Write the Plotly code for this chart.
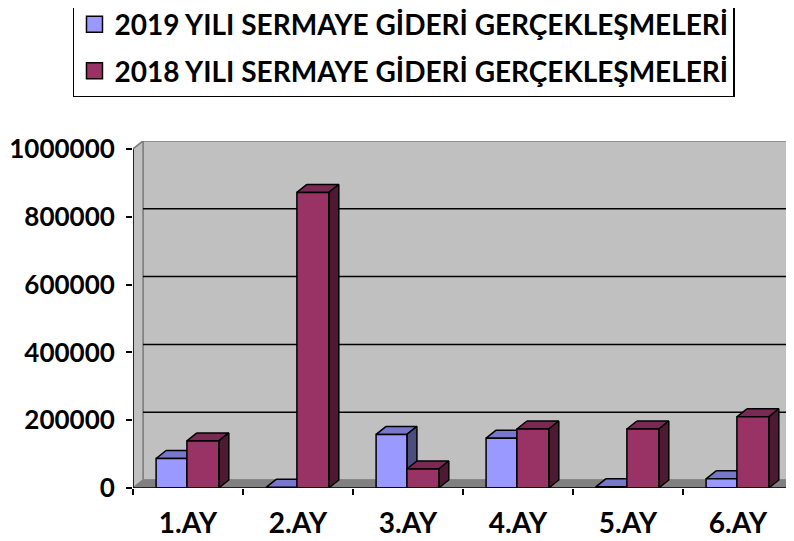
import plotly.graph_objects as go

categories = ["1.AY", "2.AY", "3.AY", "4.AY", "5.AY", "6.AY"]
series_names = ["2019 YILI SERMAYE GİDERİ GERÇEKLEŞMELERİ",
                "2018 YILI SERMAYE GİDERİ GERÇEKLEŞMELERİ"]
values_2019 = [87000, 2000, 158000, 147000, 4000, 27000]
values_2018 = [139000, 872000, 56000, 174000, 174000, 210000]
y_ticks = [0, 200000, 400000, 600000, 800000, 1000000]

front_2019, top_2019, side_2019 = "#9999FF", "#7777CC", "#4D4D80"
front_2018, top_2018, side_2018 = "#993366", "#7A2952", "#4D1933"
wall_color, floor_color, wall_edge = "#C0C0C0", "#808080", "#808080"

n = len(categories)
ymax = y_ticks[-1]
DX = 0.091            # depth offset in category units
DY = 0.0236 * ymax    # depth offset in value units
bar_slots = [(-0.29, -0.01), (-0.01, 0.28)]
FONT = "Lato"

fig = go.Figure()


def poly(xs, ys, fill, line_color="black", lw=1.5):
    fig.add_trace(go.Scatter(x=xs + [xs[0]], y=ys + [ys[0]], mode="lines", fill="toself",
                             fillcolor=fill, line=dict(color=line_color, width=lw),
                             hoverinfo="skip", showlegend=False))


def line(xs, ys, color="black", lw=1.5):
    fig.add_trace(go.Scatter(x=xs, y=ys, mode="lines", line=dict(color=color, width=lw),
                             hoverinfo="skip", showlegend=False))


# back wall & side wall
poly([DX, n + DX, n + DX, DX], [DY, DY, ymax + DY, ymax + DY], wall_color, wall_edge, 1.5)
poly([0, DX, DX, 0], [0, DY, ymax + DY, ymax], wall_color, wall_edge, 1.5)
# floor
poly([0, n, n + DX, DX], [0, 0, DY, DY], floor_color, floor_color, 1)
# gridlines on back wall
for v in y_ticks[1:-1]:
    line([DX, n + DX], [v + DY, v + DY], "black", 1.5)

# 3D bars
for i in range(n):
    c = i + 0.5
    for (vals, f, t, s), (o0, o1) in zip(
            [(values_2019, front_2019, top_2019, side_2019),
             (values_2018, front_2018, top_2018, side_2018)], bar_slots):
        v = vals[i]
        x0, x1 = c + o0, c + o1
        poly([x0 + DX, x1 + DX, x1, x0], [v + DY, v + DY, v, v], t)   # top
        poly([x1, x1 + DX, x1 + DX, x1], [0, DY, v + DY, v], s)       # side
        poly([x0, x1, x1, x0], [0, 0, v, v], f)                       # front

# front axis lines
line([0, 0], [0, ymax], "black", 1.5)
line([0, DX], [ymax, ymax + DY], wall_edge, 1.5)
line([0, n], [0, 0], "black", 1.5)

# legend entries
for name, col in zip(series_names, [front_2019, front_2018]):
    fig.add_trace(go.Scatter(x=[None], y=[None], mode="markers", name=name,
                             marker=dict(symbol="square", size=17, color=col,
                                         line=dict(color="black", width=1.5)),
                             legendgroup=name))

fig.update_layout(
    width=786, height=533,
    margin=dict(l=125, r=0, t=133, b=53, autoexpand=False),
    paper_bgcolor="white", plot_bgcolor="white",
    font=dict(family=FONT, color="black"),
    showlegend=True,
    legend=dict(x=-0.0908, y=1.412, xanchor="left", yanchor="top",
                bordercolor="black", borderwidth=1.5, bgcolor="white",
                font=dict(family=FONT, size=28, color="black", weight="bold"),
                tracegroupgap=7, itemclick=False),
    xaxis=dict(range=[0, 661 / 110], showgrid=False, zeroline=False, showline=False,
               tickmode="array", tickvals=[i + 0.5 for i in range(n)], ticktext=categories,
               ticks="", tickfont=dict(family=FONT, size=28, weight="bold"),
               ticklabelstandoff=16,
               minor=dict(tickmode="array", tickvals=list(range(n + 1)), ticks="outside",
                          ticklen=6, tickwidth=1.5, tickcolor="black"),
               fixedrange=True),
    yaxis=dict(range=[0, ymax + DY], showgrid=False, zeroline=False, showline=False,
               tickmode="array", tickvals=y_ticks, ticktext=[str(v) for v in y_ticks],
               ticks="outside", ticklen=6, tickwidth=1.5, tickcolor="black",
               ticklabelstandoff=6,
               tickfont=dict(family=FONT, size=26, weight="bold"), fixedrange=True),
)

fig.write_html("out.html")
